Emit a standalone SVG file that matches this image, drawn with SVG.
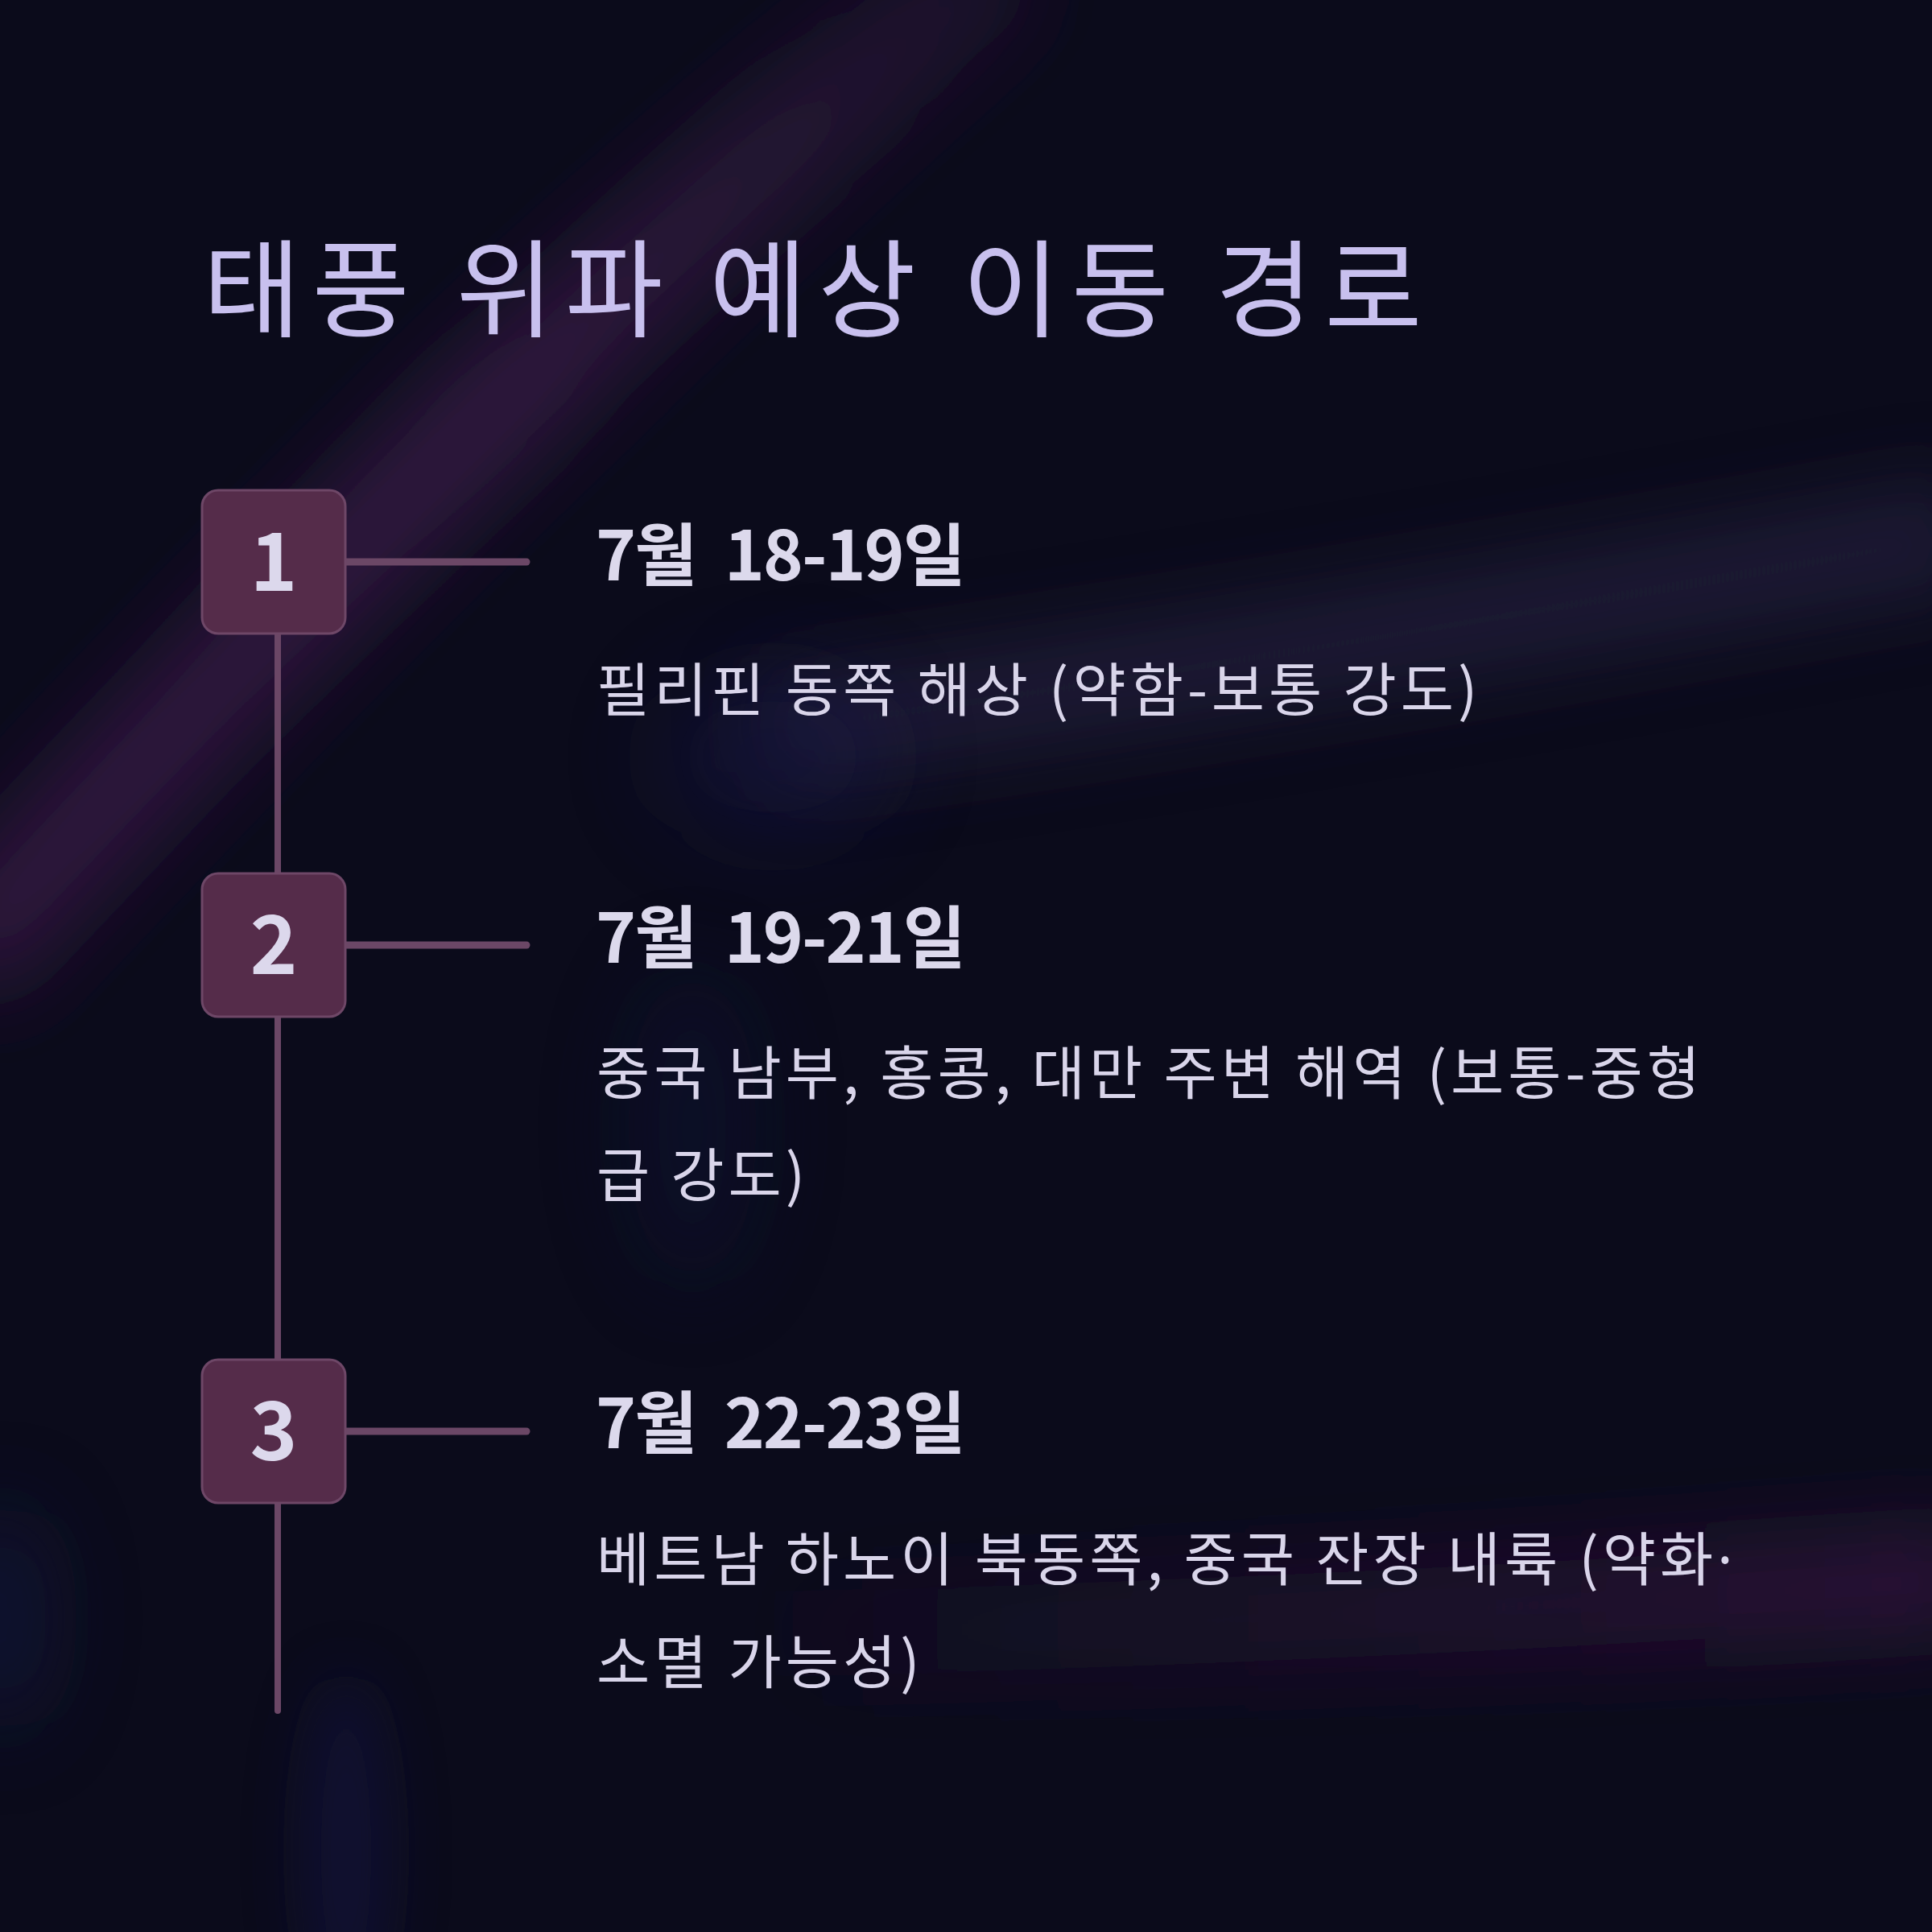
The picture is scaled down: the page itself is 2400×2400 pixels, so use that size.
<svg xmlns="http://www.w3.org/2000/svg" width="2400" height="2400" viewBox="0 0 2400 2400">
<defs>
<filter id="blurL" filterUnits="userSpaceOnUse" x="-200" y="-200" width="2800" height="2800"><feGaussianBlur stdDeviation="55"/></filter>
<filter id="blurM" filterUnits="userSpaceOnUse" x="-200" y="-200" width="2800" height="2800"><feGaussianBlur stdDeviation="35"/></filter>
<linearGradient id="gBand1" gradientUnits="userSpaceOnUse" x1="1260" y1="-60" x2="-60" y2="1200">
<stop offset="0" stop-color="#3a1c48" stop-opacity="0.35"/>
<stop offset="0.45" stop-color="#3a1c48" stop-opacity="0.85"/>
<stop offset="1" stop-color="#3a1c48" stop-opacity="0.8"/>
</linearGradient>
<linearGradient id="gBand3" gradientUnits="userSpaceOnUse" x1="1000" y1="0" x2="2460" y2="0">
<stop offset="0" stop-color="#2c1339" stop-opacity="0.2"/>
<stop offset="1" stop-color="#34163f" stop-opacity="0.95"/>
</linearGradient>
<style>
.box{fill:#552c4a;stroke:#6e4767;stroke-width:3}
.num{font-family:"Noto Sans CJK KR","Noto Sans",sans-serif;font-size:100px;font-weight:600;fill:#dcd8ec;text-anchor:middle}
.date{font-family:"Noto Sans CJK KR","Noto Sans",sans-serif;font-size:85px;font-weight:600;fill:#dcd9ec;letter-spacing:-2px;word-spacing:18px}
.desc{font-family:"Noto Sans CJK KR","Noto Sans",sans-serif;font-size:72px;font-weight:400;fill:#d9d5ea;letter-spacing:5px}
.dot{font-family:"Noto Sans",sans-serif}
.title{font-family:"Noto Sans CJK KR","Noto Sans",sans-serif;font-size:132px;font-weight:400;fill:#c8c0ee;letter-spacing:14px}
.conn{stroke:#6b4766;fill:none;stroke-linecap:round}
</style>
</defs>
<rect width="2400" height="2400" fill="#0b0b1b"/>
<g id="background">
<path d="M 1260 -60 Q 700 380 -60 1200" stroke="url(#gBand1)" stroke-width="140" fill="none" filter="url(#blurL)"/>
<path d="M 950 910 Q 1650 810 2460 660" stroke="#2a2746" stroke-width="110" fill="none" opacity="0.7" filter="url(#blurL)"/>
<ellipse cx="960" cy="940" rx="150" ry="110" fill="#121848" opacity="0.4" filter="url(#blurL)"/>
<ellipse cx="860" cy="1400" rx="80" ry="200" fill="#10143e" opacity="0.35" filter="url(#blurL)"/>
<path d="M 1000 2030 Q 1750 2010 2460 1960" stroke="url(#gBand3)" stroke-width="110" fill="none" filter="url(#blurL)"/>
<ellipse cx="0" cy="2010" rx="60" ry="140" fill="#141a4a" opacity="0.55" filter="url(#blurL)"/>
<ellipse cx="430" cy="2300" rx="55" ry="220" fill="#121746" opacity="0.5" filter="url(#blurM)"/>
</g>
<text id="title" class="title" x="252" y="408">태풍 위파 예상 이동 경로</text>
<g id="connectors">
<line class="conn" x1="345" y1="720" x2="345" y2="2125" stroke-width="8"/>
<line class="conn" x1="420" y1="698" x2="654" y2="698" stroke-width="9"/>
<line class="conn" x1="420" y1="1174" x2="654" y2="1174" stroke-width="9"/>
<line class="conn" x1="420" y1="1778" x2="654" y2="1778" stroke-width="9"/>
</g>
<g id="node-1">
<rect class="box" x="251" y="609" width="178" height="178" rx="20"/>
<text class="num" x="340" y="734">1</text>
<text class="date" x="740" y="721">7월 18-19일</text>
<text class="desc" x="741" y="883">필리핀 동쪽 해상 (약함-보통 강도)</text>
</g>
<g id="node-2">
<rect class="box" x="251" y="1085" width="178" height="178" rx="20"/>
<text class="num" x="340" y="1210">2</text>
<text class="date" x="740" y="1196">7월 19-21일</text>
<text class="desc" x="741" y="1359">중국 남부, 홍콩, 대만 주변 해역 (보통-중형</text>
<text class="desc" x="741" y="1486">급 강도)</text>
</g>
<g id="node-3">
<rect class="box" x="251" y="1689" width="178" height="178" rx="20"/>
<text class="num" x="340" y="1814">3</text>
<text class="date" x="740" y="1799">7월 22-23일</text>
<text class="desc" x="741" y="1963">베트남 하노이 북동쪽, 중국 잔장 내륙 (약화<tspan class="dot">·</tspan></text>
<text class="desc" x="741" y="2091">소멸 가능성)</text>
</g>
</svg>
